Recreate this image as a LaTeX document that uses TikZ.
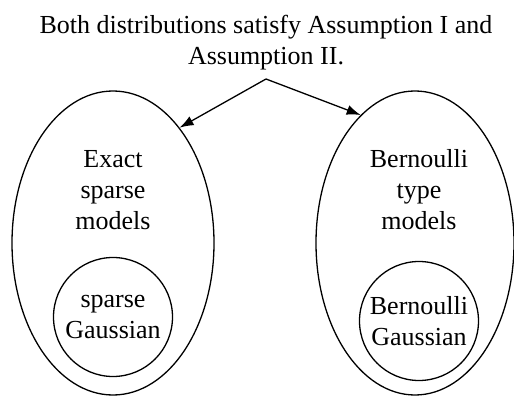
\documentclass[tikz,border=0pt]{standalone}
\usepackage{fontspec}
\setmainfont{Liberation Serif}
\usetikzlibrary{shapes.geometric}
\usetikzlibrary{arrows.meta}
\tikzset{basic/.style={draw,line width=1.3pt,inner sep=0pt}}
\tikzset{family/.style={basic,ellipse,minimum width=202pt,minimum height=304pt}}
\tikzset{special/.style={basic,circle,minimum size=119pt}}
\tikzset{words/.style={align=center,inner sep=0pt,font=\fontsize{26}{31}\selectfont}}

\begin{document}
\begin{tikzpicture}[x=1pt,y=-1pt]
    \useasboundingbox (0,0) rectangle (514,396);

    % statement on top
    \node[words] (claim) at (266,42.5) {Both distributions satisfy Assumption I and\\Assumption II.};
    \coordinate (split) at (266,79);

    % left family
    \node[family] (exact) at (113,243) {};
    \node[words] (exactlabel) at (113,190) {Exact\\sparse\\models};
    \node[special] (sg) at (113,317) {};
    \node[words] at (sg) {sparse\\Gaussian};

    % right family
    \node[family,minimum width=198pt] (bern) at (415,243) {};
    \node[words] (bernlabel) at (419,190) {Bernoulli\\type\\models};
    \node[special] (bg) at (419,321) {};
    \node[words] at (bg) {Bernoulli\\Gaussian};

    % arrows
    \draw[line width=1.3pt,-{Latex[length=14pt,width=10pt]}] (split) -- (exact.60);
    \draw[line width=1.3pt,-{Latex[length=14pt,width=10pt]}] (split) -- (bern.113);
\end{tikzpicture}
\end{document}
